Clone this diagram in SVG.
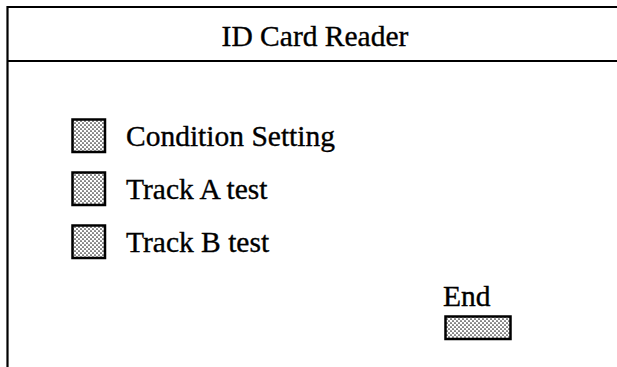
<svg xmlns="http://www.w3.org/2000/svg" width="617" height="367" viewBox="0 0 617 367">
  <defs>
    <!-- dotted fill used for the selection buttons -->
    <pattern id="stipple" width="4" height="4" patternUnits="userSpaceOnUse">
      <rect width="4" height="4" fill="#ffffff"/>
      <circle cx="1" cy="1" r="0.85" fill="#222222"/>
      <circle cx="3" cy="3" r="0.85" fill="#222222"/>
    </pattern>
    <style>
      .frame { fill: none; stroke: #000; stroke-width: 2.2; }
      .btn { fill: url(#stipple); stroke: #000; stroke-width: 2.5; }
      .lbl { font-family: "Liberation Serif", "Times New Roman", serif; font-size: 29.5px; fill: #000; stroke: #000; stroke-width: 0.35; }
    </style>
  </defs>
  <rect width="617" height="367" fill="#ffffff"/>

  <!-- window frame with title bar -->
  <g id="window">
    <path class="frame" d="M620 7 H7.5 V370 M7.5 61 H620"/>
    <text class="lbl" x="315" y="46" text-anchor="middle">ID Card Reader</text>
  </g>

  <g id="condition-setting">
    <rect class="btn" x="72.5" y="119.5" width="32.5" height="32.5"/>
    <text class="lbl" x="126" y="146">Condition Setting</text>
  </g>

  <g id="track-a-test">
    <rect class="btn" x="72.5" y="172.5" width="32.5" height="32.5"/>
    <text class="lbl" x="126" y="199">Track A test</text>
  </g>

  <g id="track-b-test">
    <rect class="btn" x="72.5" y="225.5" width="32.5" height="32.5"/>
    <text class="lbl" x="126" y="252">Track B test</text>
  </g>

  <g id="end">
    <text class="lbl" x="443" y="306">End</text>
    <rect class="btn" x="445.5" y="316.5" width="65" height="22.5"/>
  </g>

  <g id="connectors"/>
</svg>
